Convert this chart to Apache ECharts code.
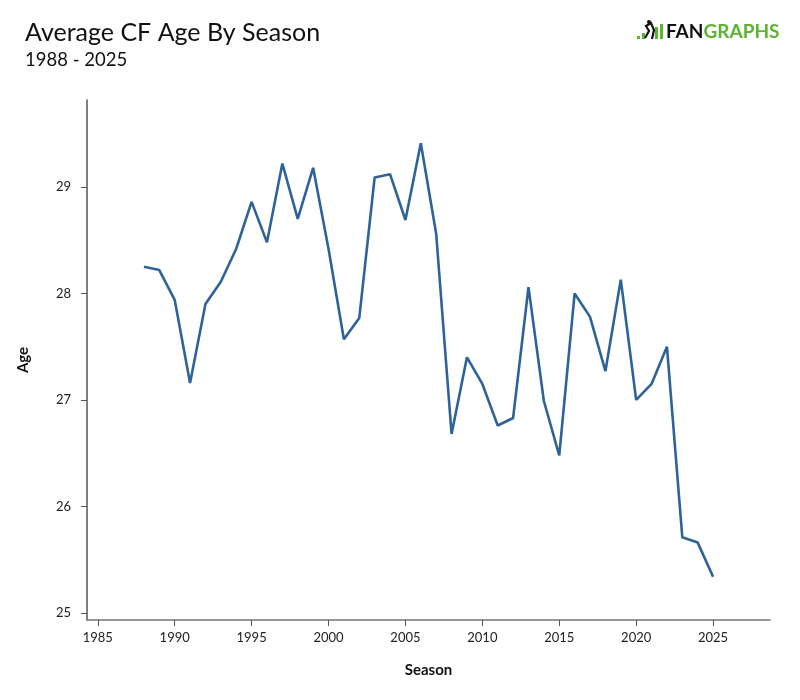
<!DOCTYPE html>
<html>
<head>
<meta charset="utf-8">
<script src="https://cdn.jsdelivr.net/npm/echarts@6/dist/echarts.min.js"></script>
<style>html,body{margin:0;padding:0;background:#fff}#c{width:800px;height:700px}</style>
</head>
<body>
<div id="c"></div>
<script>
const seasons = [1988,1989,1990,1991,1992,1993,1994,1995,1996,1997,1998,1999,2000,2001,2002,2003,2004,2005,2006,2007,2008,2009,2010,2011,2012,2013,2014,2015,2016,2017,2018,2019,2020,2021,2022,2023,2024,2025];
const avgAge = [28.25,28.22,27.94,27.16,27.90,28.11,28.42,28.86,28.48,29.22,28.70,29.18,28.42,27.57,27.77,29.09,29.12,28.69,29.41,28.56,26.68,27.40,27.15,26.76,26.83,28.06,26.99,26.48,28.00,27.78,27.27,28.13,27.00,27.15,27.50,25.71,25.66,25.34];
const xTicks = [1985,1990,1995,2000,2005,2010,2015,2020,2025];
const yTicks = [25,26,27,28,29];

const xMinD = Math.min(...seasons), xMaxD = Math.max(...seasons);
const yMinD = Math.min(...avgAge), yMaxD = Math.max(...avgAge);
const xPad = (xMaxD - xMinD) * 0.1, yPad = (yMaxD - yMinD) * 0.1;

const chart = echarts.init(document.getElementById('c'), null, {renderer: 'canvas'});
const FONT = 'Lato';
chart.setOption({
  backgroundColor: '#fff',
  animation: false,
  textStyle: {fontFamily: FONT},
  title: [
    {text: 'Average CF Age By Season', left: 20, top: 15, textStyle: {fontFamily: FONT, fontSize: 25, fontWeight: 'normal', color: '#111'}},
    {text: '1988 - 2025', left: 20, top: 46, textStyle: {fontFamily: FONT, fontSize: 18.5, fontWeight: 'normal', color: '#111'}}
  ],
  graphic: [
    {type: 'rect', shape: {x: 637, y: 36, width: 3, height: 3}, style: {fill: '#5cb531'}},
    {type: 'rect', shape: {x: 642, y: 33, width: 3, height: 6}, style: {fill: '#5cb531'}},
    {type: 'rect', shape: {x: 655, y: 27, width: 3, height: 12}, style: {fill: '#5cb531'}},
    {type: 'rect', shape: {x: 660, y: 24, width: 3, height: 15}, style: {fill: '#5cb531'}},
    {type: 'polyline', shape: {points: [[645,38],[649,31],[646,26],[651,23],[654,30],[652,39]]}, style: {stroke: '#111', lineWidth: 2.2, fill: null}},
    {type: 'circle', shape: {cx: 649, cy: 22, r: 2}, style: {fill: '#111'}},
    {type: 'text', left: 666, top: 22, style: {text: '{a|FAN}{b|GRAPHS}', rich: {a: {fontFamily: FONT, fontWeight: 'bold', fontSize: 19, fill: '#111'}, b: {fontFamily: FONT, fontWeight: 'bold', fontSize: 19, fill: '#5cb531'}}}}
  ],
  grid: {left: 87, right: 30, top: 100, bottom: 80, containLabel: false},
  xAxis: {
    type: 'value',
    min: xMinD - xPad, max: xMaxD + xPad,
    name: 'Season', nameLocation: 'middle', nameGap: 43,
    nameTextStyle: {fontFamily: FONT, fontWeight: 'bold', fontSize: 15, color: '#111'},
    axisLine: {show: true, lineStyle: {color: '#777', width: 1.5}},
    axisTick: {show: true, length: 6, lineStyle: {color: '#555'}, customValues: xTicks},
    axisLabel: {fontFamily: FONT, fontSize: 13, color: '#222', margin: 11, customValues: xTicks, formatter: v => String(Math.round(v))},
    splitLine: {show: false}
  },
  yAxis: {
    type: 'value',
    min: yMinD - yPad, max: yMaxD + yPad,
    name: 'Age', nameLocation: 'middle', nameGap: 56, nameRotate: 90,
    nameTextStyle: {fontFamily: FONT, fontWeight: 'bold', fontSize: 15, color: '#111'},
    axisLine: {show: true, lineStyle: {color: '#555', width: 1.5}},
    axisTick: {show: true, length: 6, lineStyle: {color: '#555'}, customValues: yTicks},
    axisLabel: {fontFamily: FONT, fontSize: 13, color: '#222', margin: 16, customValues: yTicks, formatter: v => String(Math.round(v))},
    splitLine: {show: false}
  },
  series: [{
    type: 'line',
    data: seasons.map((s, i) => [s, avgAge[i]]),
    showSymbol: false,
    lineStyle: {color: '#2e6399', width: 2.6},
    itemStyle: {color: '#2e6399'}
  }]
});
</script>
</body>
</html>
